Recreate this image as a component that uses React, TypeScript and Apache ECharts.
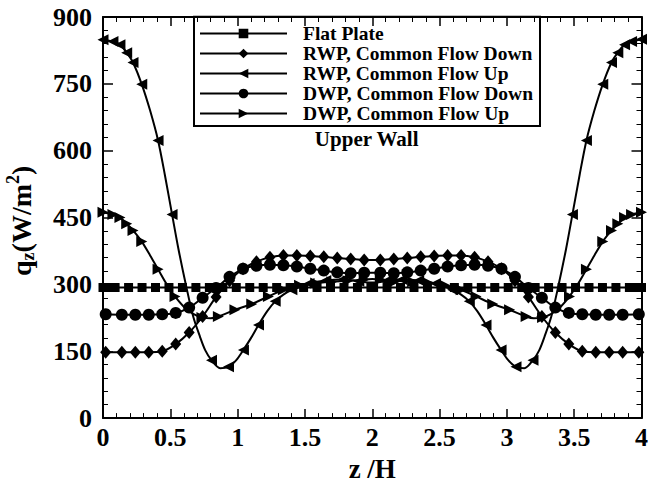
import React, { useEffect, useRef } from 'react';
import * as echarts from 'echarts';

const FONT = '"Liberation Serif", "Times New Roman", serif';

const seriesNames = [
  'Flat Plate',
  'RWP, Common Flow Down',
  'RWP, Common Flow Up',
  'DWP, Common Flow Down',
  'DWP, Common Flow Up',
];

// Flat plate
const flatZ = [0, 0.03, 0.09, 0.19, 0.29, 0.39, 0.49, 0.59, 0.69, 0.79, 0.89, 0.99, 1.09, 1.19, 1.29, 1.39, 1.49, 1.59, 1.69, 1.79, 1.89, 1.99,
  2.01, 2.11, 2.21, 2.31, 2.41, 2.51, 2.61, 2.71, 2.81, 2.91, 3.01, 3.11, 3.21, 3.31, 3.41, 3.51, 3.61, 3.71, 3.81, 3.91, 3.97, 4];
const flatQ = [293, 293, 293, 293, 293, 293, 293, 293, 293, 293, 293, 293, 293, 293, 293, 293, 293, 293, 293, 293, 293, 293,
  293, 293, 293, 293, 293, 293, 293, 293, 293, 293, 293, 293, 293, 293, 293, 293, 293, 293, 293, 293, 293, 293];

// "Common Flow Down" grid
const downZ = [0.02, 0.14, 0.24, 0.34, 0.44, 0.54, 0.64, 0.74, 0.84, 0.94, 1.04, 1.14, 1.24, 1.34, 1.44, 1.54, 1.64, 1.74, 1.84, 1.94,
  2.06, 2.16, 2.26, 2.36, 2.46, 2.56, 2.66, 2.76, 2.86, 2.96, 3.06, 3.16, 3.26, 3.36, 3.46, 3.56, 3.66, 3.76, 3.86, 3.98];
const rwpDownQ = [148, 148, 148, 148, 150, 166, 192, 228, 272, 308, 335, 351, 361, 365, 365, 364, 362, 359, 357, 355,
  355, 357, 359, 362, 364, 365, 365, 361, 351, 335, 308, 272, 228, 192, 166, 150, 148, 148, 148, 148];
const dwpDownQ = [233, 232, 232, 232, 233, 236, 248, 270, 292, 317, 335, 342, 344, 343, 340, 335, 331, 327, 325, 326,
  326, 325, 327, 331, 335, 340, 343, 344, 342, 335, 317, 292, 270, 248, 236, 233, 232, 232, 232, 233];

// RWP, Common Flow Up
const rwpUpZ = [0, 0.074, 0.126, 0.176, 0.223, 0.288, 0.35, 0.409, 0.46, 0.513, 0.56, 0.62, 0.67, 0.72, 0.76, 0.806, 0.87, 0.932, 0.99, 1.043,
  1.1, 1.155, 1.22, 1.279, 1.34, 1.403, 1.53, 1.655, 1.78, 1.9, 2.0,
  2.1, 2.22, 2.345, 2.47, 2.597, 2.66, 2.721, 2.78, 2.845, 2.9, 2.957, 3.01, 3.068, 3.13, 3.194, 3.24, 3.28, 3.33, 3.38, 3.44,
  3.487, 3.54, 3.591, 3.65, 3.712, 3.777, 3.824, 3.874, 3.926, 4.0];
const rwpUpQ = [849, 845, 838, 820, 798, 749, 690, 623, 545, 457, 380, 293, 228, 183, 152, 130, 112, 115, 130, 153,
  180, 209, 240, 262, 277, 288, 302, 309, 311, 307, 304,
  307, 311, 309, 302, 288, 277, 262, 240, 209, 180, 153, 130, 115, 112, 130, 152, 183, 228, 293, 380,
  457, 545, 623, 690, 749, 798, 820, 838, 845, 850];
const rwpUpMark = [1, 1, 1, 1, 1, 1, 0, 1, 0, 1, 0, 0, 0, 0, 0, 1, 0, 1, 0, 1,
  0, 1, 0, 1, 0, 1, 1, 1, 1, 1, 0,
  1, 1, 1, 1, 1, 0, 1, 0, 1, 0, 1, 0, 1, 0, 1, 0, 0, 0, 0, 0,
  1, 0, 1, 0, 1, 1, 1, 1, 1, 1];

// DWP, Common Flow Up
const dwpUpZ = [0, 0.074, 0.126, 0.176, 0.223, 0.288, 0.35, 0.409, 0.47, 0.535, 0.6, 0.67, 0.735, 0.8, 0.857, 0.98, 1.105, 1.229, 1.34, 1.46, 1.58, 1.7, 1.82, 1.94,
  2.0,
  2.06, 2.18, 2.3, 2.42, 2.54, 2.66, 2.771, 2.895, 3.02, 3.143, 3.2, 3.265, 3.33, 3.4, 3.465, 3.53, 3.591, 3.65, 3.712, 3.777, 3.824, 3.874, 3.926, 4.0];
const dwpUpQ = [462, 457, 450, 436, 421, 396, 365, 334, 302, 273, 250, 234, 226, 224, 228, 243, 256, 273, 288, 298, 303, 306, 308, 311,
  312,
  311, 308, 306, 303, 298, 288, 273, 256, 243, 228, 224, 226, 234, 250, 273, 302, 334, 365, 396, 421, 436, 450, 457, 462];
const dwpUpMark = [1, 1, 1, 1, 1, 1, 0, 1, 0, 1, 0, 0, 1, 0, 1, 1, 1, 1, 1, 1, 1, 1, 1, 1,
  0,
  1, 1, 1, 1, 1, 1, 1, 1, 1, 1, 0, 1, 0, 0, 1, 0, 1, 0, 1, 1, 1, 1, 1, 1];

const xTickInterval = 0.5;
const yTickInterval = 150;

function pairs(z: number[], q: number[], mark?: number[]) {
  return z.map((zz, i) => {
    const item: any = { value: [zz, q[i]] };
    if (mark && !mark[i]) item.symbol = 'none';
    return item;
  });
}

function txt(text: string, x: number, y: number, size: number) {
  return {
    type: 'text', x, y,
    style: {
      text, font: `bold ${size}px ${FONT}`, fill: '#000',
      textAlign: 'left', textVerticalAlign: 'middle', align: 'left', verticalAlign: 'middle',
    },
  };
}

export default function App() {
  const ref = useRef<HTMLDivElement>(null);
  useEffect(() => {
    if (!ref.current) return;
    const chart = echarts.init(ref.current, null, { renderer: 'svg' });
    const axisLine = { show: true, onZero: false, lineStyle: { color: '#000', width: 2 } };
    const xTick = { show: true, inside: true, length: 9, lineStyle: { color: '#000', width: 1.5 } };
    const minor = { show: true, splitNumber: 5, length: 5, lineStyle: { color: '#000', width: 1 } };
    const labelStyle = { color: '#000', fontFamily: FONT, fontWeight: 'bold' as const, fontSize: 26 };
    const baseLine = { color: '#000', width: 2 };
    const option: any = {
      animation: false,
      grid: { left: 103, right: 9, top: 17, bottom: 64, containLabel: false },
      xAxis: [
        {
          type: 'value', min: 0, max: 4, interval: xTickInterval, position: 'bottom',
          axisLine, axisTick: xTick, minorTick: minor, splitLine: { show: false },
          axisLabel: { ...labelStyle, margin: 6 },
          name: 'z /H', nameLocation: 'middle', nameGap: 32,
          nameTextStyle: { color: '#000', fontFamily: FONT, fontWeight: 'bold', fontSize: 27 },
        },
        {
          type: 'value', min: 0, max: 4, interval: xTickInterval, position: 'top',
          axisLine, axisTick: xTick, minorTick: minor, splitLine: { show: false },
          axisLabel: { show: false },
        },
      ],
      yAxis: [
        {
          type: 'value', min: 0, max: 900, interval: yTickInterval, position: 'left',
          axisLine, axisTick: { ...xTick, length: 10 }, minorTick: minor, splitLine: { show: false },
          axisLabel: { ...labelStyle, margin: 11 },
        },
        {
          type: 'value', min: 0, max: 900, interval: yTickInterval, position: 'right',
          axisLine, axisTick: { ...xTick, length: 10 }, minorTick: minor, splitLine: { show: false },
          axisLabel: { show: false },
        },
      ],
      legend: {
        orient: 'vertical', left: 199, top: 23.5, itemWidth: 87, itemHeight: 12, itemGap: 0, padding: 0,
        selectedMode: false, data: seriesNames,
        textStyle: { color: '#000', fontFamily: FONT, fontWeight: 'bold', fontSize: 19.5, padding: [0, 0, 0, 11] },
      },
      graphic: [
        {
          type: 'rect', z: 100,
          shape: { x: 194, y: 16.7, width: 346, height: 109.3 },
          style: { fill: 'none', stroke: '#000', lineWidth: 2 },
        },
        {
          type: 'text', x: 366.7, y: 139, z: 100,
          style: { text: 'Upper Wall', font: `bold 21px ${FONT}`, fill: '#000', textAlign: 'center', textVerticalAlign: 'middle', align: 'center', verticalAlign: 'middle' },
        },
        {
          type: 'group', x: 21, y: 221, rotation: Math.PI / 2, z: 100,
          children: [
            txt('q', -55, 0, 28),
            txt('z', -39.4, 7, 18),
            txt('(W/m', -31.4, 0, 28),
            txt('2', 37, -8, 18),
            txt(')', 46, 0, 28),
          ],
        },
      ],
      series: [
        {
          name: seriesNames[0], type: 'line', data: pairs(flatZ, flatQ),
          symbol: 'rect', symbolSize: 9, lineStyle: baseLine, itemStyle: { color: '#000' },
        },
        {
          name: seriesNames[1], type: 'line', data: pairs(downZ, rwpDownQ), smooth: 0.3,
          symbol: 'diamond', symbolSize: [11, 13], lineStyle: baseLine, itemStyle: { color: '#000' },
        },
        {
          name: seriesNames[2], type: 'line', data: pairs(rwpUpZ, rwpUpQ, rwpUpMark), smooth: 0.3,
          symbol: 'triangle', symbolSize: 11, symbolRotate: 90, lineStyle: baseLine, itemStyle: { color: '#000' },
        },
        {
          name: seriesNames[3], type: 'line', data: pairs(downZ, dwpDownQ), smooth: 0.3,
          symbol: 'circle', symbolSize: 12, lineStyle: baseLine, itemStyle: { color: '#000' },
        },
        {
          name: seriesNames[4], type: 'line', data: pairs(dwpUpZ, dwpUpQ, dwpUpMark), smooth: 0.3,
          symbol: 'triangle', symbolSize: 11, symbolRotate: -90, lineStyle: baseLine, itemStyle: { color: '#000' },
        },
      ],
    };
    chart.setOption(option);
    return () => chart.dispose();
  }, []);
  return <div ref={ref} style={{ width: 651, height: 487, position: 'absolute', left: 0, top: 0 }} />;
}
